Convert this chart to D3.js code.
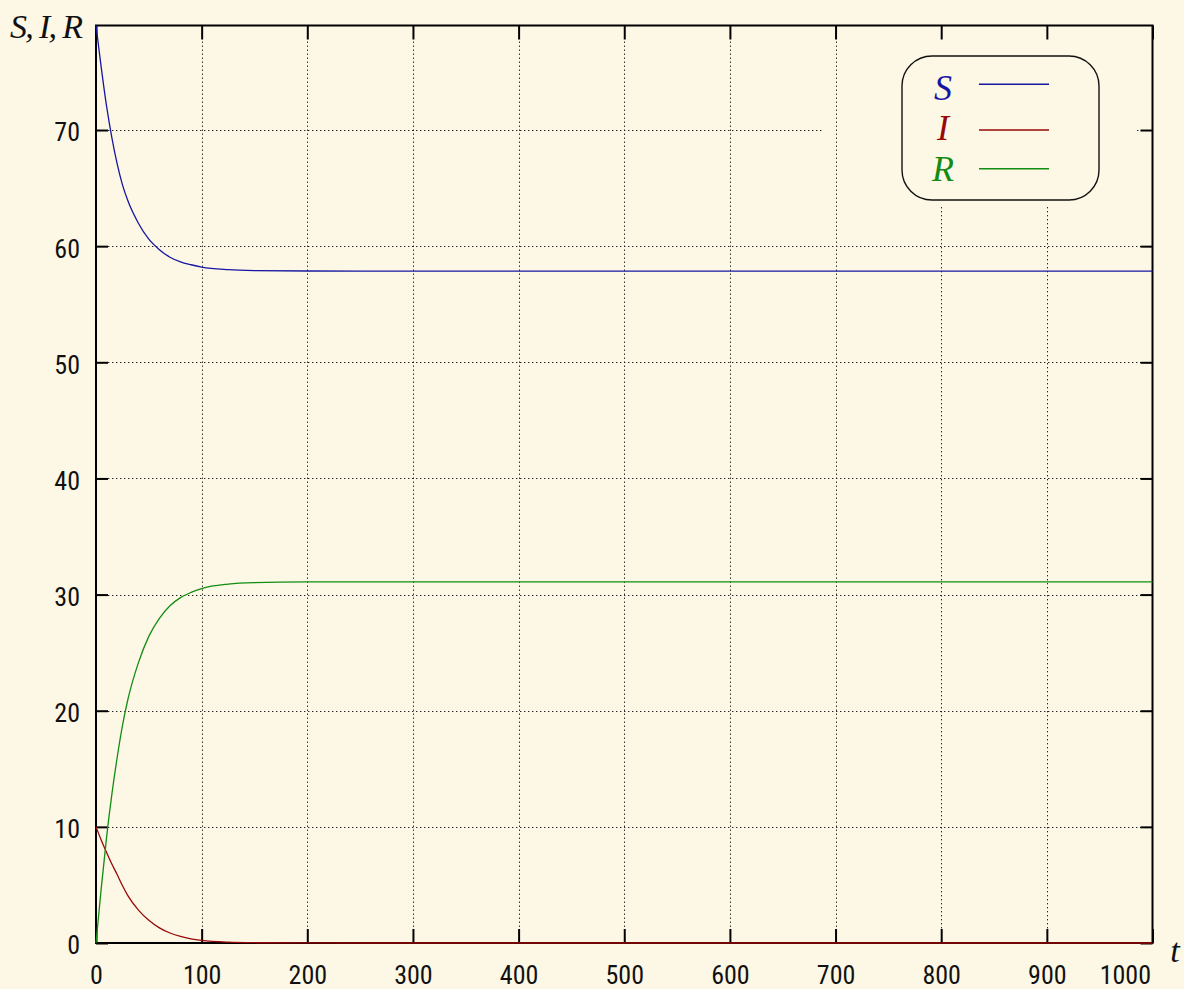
<!DOCTYPE html>
<html>
<head>
<meta charset="utf-8">
<script src="https://cdn.jsdelivr.net/npm/d3@7"></script>
<style>
  html, body { margin: 0; padding: 0; background: #fdf8e5; }
  svg { display: block; }
  .tick-label { font-family: "Liberation Sans Narrow", "Arial Narrow", "Roboto Condensed", "Liberation Sans", sans-serif; font-size: 26px; fill: #111; }
  .math { font-family: "Liberation Serif", "DejaVu Serif", serif; font-style: italic; }
</style>
</head>
<body>
<svg id="chart" width="1184" height="989"></svg>
<script>
// SIR epidemic trajectories: susceptible, infected and recovered over time t
const tValues = [0, 5, 10, 15, 20, 25, 30, 40, 50, 60, 70, 80, 90, 100, 125, 150, 200, 300, 1000];
const sValues = [79, 75.35, 72.05, 69.35, 67.1, 65.3, 63.95, 62.0, 60.6, 59.7, 59.05, 58.65, 58.4, 58.2, 57.98, 57.9, 57.86, 57.85, 57.85];
const iValues = [10, 8.85, 7.8, 6.8, 5.9, 4.95, 4.1, 2.85, 1.95, 1.3, 0.86, 0.56, 0.36, 0.23, 0.075, 0.025, 0.003, 0, 0];
const rValues = [0, 4.75, 9.1, 12.8, 15.95, 18.7, 20.9, 24.1, 26.4, 27.95, 29.04, 29.74, 30.19, 30.52, 30.9, 31.03, 31.09, 31.1, 31.1];

const seriesNames = ["S", "I", "R"];
const seriesColors = ["#1616a2", "#980808", "#138c13"];
const xTicks = [0, 100, 200, 300, 400, 500, 600, 700, 800, 900, 1000];
const yTicks = [0, 10, 20, 30, 40, 50, 60, 70];
const xDomain = [0, 1000];
const yDomain = [0, 79];

const svg = d3.select("#chart");
const W = 1184, H = 989;
const plot = { left: 96, right: 1152.5, top: 25.5, bottom: 943 };

svg.append("rect").attr("width", W).attr("height", H).attr("fill", "#fdf8e5");

const x = d3.scaleLinear().domain(xDomain).range([plot.left, plot.right]);
const y = d3.scaleLinear().domain(yDomain).range([plot.bottom, plot.top]);

// key box geometry and the region kept free of grid dots around it
const key = { x0: 902, x1: 1099, y0: 56, y1: 200, r: 30 };
const gridGapX = [823, 1137];   // horizontal grid lines break here
const gridGapY = [40, 207];     // vertical grid lines inside the key span break here

// dotted grid
const grid = svg.append("g")
  .attr("stroke", "#222").attr("stroke-width", 1)
  .attr("stroke-dasharray", "1.4,2.6").attr("fill", "none");

yTicks.filter(v => v > yDomain[0]).forEach(v => {
  const yy = Math.round(y(v)) + 0.5;
  const segs = (yy > gridGapY[0] && yy < gridGapY[1])
    ? [[plot.left, gridGapX[0]], [gridGapX[1], plot.right]]
    : [[plot.left, plot.right]];
  segs.forEach(([a, b]) => grid.append("line")
    .attr("x1", a).attr("x2", b).attr("y1", yy).attr("y2", yy));
});

xTicks.filter(v => v > xDomain[0] && v < xDomain[1]).forEach(v => {
  const xx = Math.round(x(v)) + 0.5;
  const segs = (xx > key.x0 && xx < key.x1)
    ? [[plot.top, gridGapY[0]], [gridGapY[1], plot.bottom]]
    : [[plot.top, plot.bottom]];
  segs.forEach(([a, b]) => grid.append("line")
    .attr("x1", xx).attr("x2", xx).attr("y1", a).attr("y2", b));
});

// axes: inward ticks on all four sides, labels on left and bottom
function styleAxis(g) {
  g.select(".domain").remove();
  g.selectAll(".tick line").attr("stroke", "#000").attr("stroke-width", 2);
  g.selectAll(".tick text").attr("class", "tick-label").attr("fill", "#111");
}

svg.append("g")
  .attr("transform", `translate(${plot.left},0)`)
  .call(d3.axisLeft(y).tickValues(yTicks).tickSizeInner(-12).tickSizeOuter(0).tickPadding(16).tickFormat(d3.format("d")))
  .call(styleAxis)
  .call(g => g.selectAll(".tick text").attr("dy", "0.42em").attr("font-size", 26));

svg.append("g")
  .attr("transform", `translate(${plot.right},0)`)
  .call(d3.axisRight(y).tickValues(yTicks).tickSizeInner(-12).tickSizeOuter(0).tickFormat(""))
  .call(styleAxis);

svg.append("g")
  .attr("transform", `translate(0,${plot.bottom})`)
  .call(d3.axisBottom(x).tickValues(xTicks).tickSizeInner(-14).tickSizeOuter(0).tickPadding(23).tickFormat(d3.format("d")))
  .call(styleAxis)
  .call(g => g.selectAll(".tick text").filter(d => d === xDomain[1])
    .attr("text-anchor", "end").attr("x", -2));

svg.append("g")
  .attr("transform", `translate(0,${plot.top})`)
  .call(d3.axisTop(x).tickValues(xTicks).tickSizeInner(-14).tickSizeOuter(0).tickFormat(""))
  .call(styleAxis);

// frame
svg.append("rect")
  .attr("x", plot.left).attr("y", plot.top)
  .attr("width", plot.right - plot.left).attr("height", plot.bottom - plot.top)
  .attr("fill", "none").attr("stroke", "#000").attr("stroke-width", 2);

// curves
const seriesValues = [sValues, iValues, rValues];
const line = d3.line()
  .x(d => x(d[0]))
  .y(d => y(d[1]))
  .curve(d3.curveMonotoneX);

const curves = svg.append("g").attr("fill", "none").attr("stroke-width", 1.3);
seriesValues.forEach((vals, k) => {
  curves.append("path")
    .datum(tValues.map((t, j) => [t, vals[j]]))
    .attr("stroke", seriesColors[k])
    .attr("d", line);
});

// axis titles
svg.append("text").attr("class", "math")
  .attr("x", 10).attr("y", 38)
  .attr("font-size", 34).attr("fill", "#111")
  .attr("textLength", 73).attr("lengthAdjust", "spacing")
  .text("S, I, R");

svg.append("text").attr("class", "math")
  .attr("x", 1175).attr("y", 962)
  .attr("text-anchor", "middle")
  .attr("font-size", 34).attr("fill", "#111")
  .text("t");

// key
svg.append("rect")
  .attr("x", key.x0).attr("y", key.y0)
  .attr("width", key.x1 - key.x0).attr("height", key.y1 - key.y0)
  .attr("rx", key.r).attr("ry", key.r)
  .attr("fill", "#fdf8e5").attr("stroke", "#111").attr("stroke-width", 1.4);

const keyLabelY = [100, 139.5, 180.5];
const keySwatchY = [84.3, 130, 168.7];
seriesNames.forEach((name, k) => {
  svg.append("text").attr("class", "math")
    .attr("x", 943).attr("y", keyLabelY[k])
    .attr("text-anchor", "middle")
    .attr("font-size", 36).attr("fill", seriesColors[k])
    .text(name);
  svg.append("line")
    .attr("x1", 979).attr("x2", 1049)
    .attr("y1", keySwatchY[k]).attr("y2", keySwatchY[k])
    .attr("stroke", seriesColors[k]).attr("stroke-width", 1.4);
});
</script>
</body>
</html>
